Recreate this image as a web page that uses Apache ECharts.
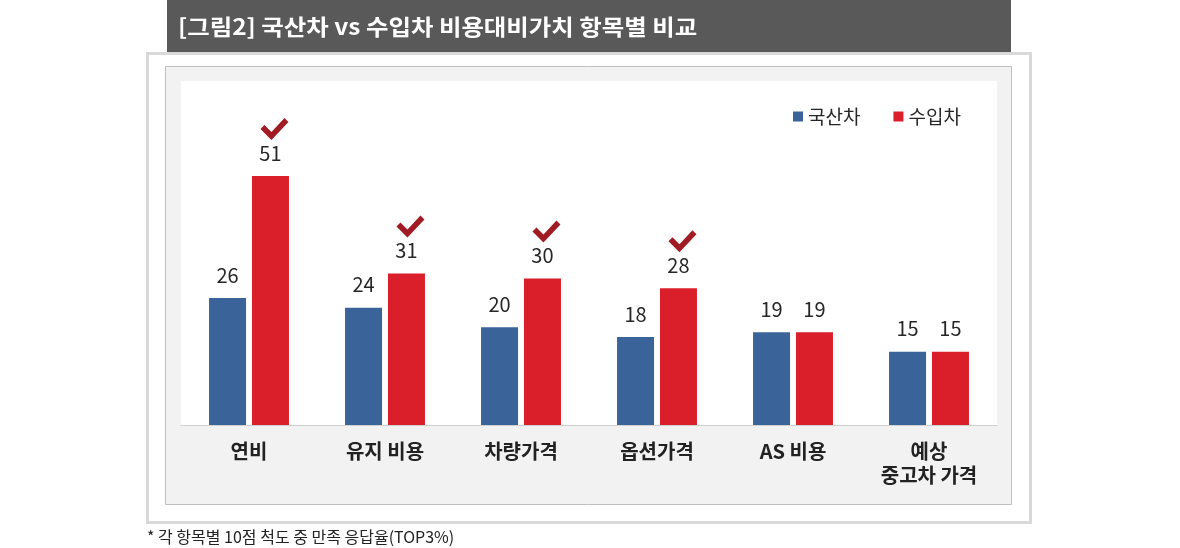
<!DOCTYPE html>
<html>
<head>
<meta charset="utf-8">
<script src="https://cdn.jsdelivr.net/npm/echarts@6/dist/echarts.min.js"></script>
<style>
  html, body { margin: 0; padding: 0; background: #fff; }
  #main { width: 1180px; height: 548px; }
</style>
</head>
<body>
<div id="main"></div>
<script>
var categories = ['연비', '유지 비용', '차량가격', '옵션가격', 'AS 비용', '예상\n중고차 가격'];
var domestic = [26, 24, 20, 18, 19, 15];
var imported = [51, 31, 30, 28, 19, 15];
var checked = [0, 1, 2, 3]; // imported bars marked with a check
var seriesNames = ['국산차', '수입차'];

var FONT = '"Noto Sans CJK KR", "Noto Sans", sans-serif';
var checkPath = 'path://M0,11 L4,7 L11,14 L24,0 L28,4 L11,22 Z';

var chart = echarts.init(document.getElementById('main'));

var option = {
  animation: false,
  textStyle: { fontFamily: FONT },
  graphic: [
    { type: 'rect', z: -10, shape: { x: 167, y: 0, width: 844, height: 52 }, style: { fill: '#595959' } },
    { type: 'text', z: -9, x: 178, y: 27, scaleX: 1.11, style: { text: '[그림2] 국산차 vs 수입차 비용대비가치 항목별 비교', fill: '#fff', font: 'bold 22px ' + FONT, verticalAlign: 'middle' } },
    { type: 'rect', z: -10, shape: { x: 147.5, y: 53.5, width: 883, height: 469 }, style: { fill: '#fff', stroke: '#d9d9d9', lineWidth: 3 } },
    { type: 'rect', z: -9, shape: { x: 165.5, y: 66.5, width: 846, height: 438 }, style: { fill: '#f2f2f2', stroke: '#bfbfbf', lineWidth: 1 } },
    { type: 'rect', z: -8, shape: { x: 181, y: 81, width: 816, height: 344 }, style: { fill: '#fff' } },
    { type: 'text', z: -8, x: 147, y: 537, style: { text: '* 각 항목별 10점 척도 중 만족 응답율(TOP3%)', fill: '#222', font: '16px ' + FONT, verticalAlign: 'middle' } }
  ],
  legend: {
    data: seriesNames,
    left: 788,
    top: 102,
    itemWidth: 10,
    itemHeight: 10,
    itemGap: 33,
    icon: 'rect',
    textStyle: { fontSize: 19, color: '#262626', fontFamily: FONT }
  },
  grid: { left: 181, right: 183, top: 132, bottom: 123 },
  xAxis: {
    type: 'category',
    data: categories,
    axisLine: { lineStyle: { color: '#d0d0d0', width: 1 } },
    axisTick: { show: false },
    axisLabel: {
      margin: 14,
      fontSize: 20,
      fontWeight: 'bold',
      color: '#222',
      lineHeight: 24,
      fontFamily: FONT,
      interval: 0
    }
  },
  yAxis: {
    type: 'value',
    min: 0,
    max: 60,
    show: false,
    splitLine: { show: false }
  },
  series: [
    {
      name: seriesNames[0],
      type: 'bar',
      data: domestic,
      barWidth: 37,
      barGap: '16%',
      itemStyle: { color: '#3a6399' },
      label: { show: true, position: 'top', distance: 13, fontSize: 20, color: '#262626', fontFamily: FONT }
    },
    {
      name: seriesNames[1],
      type: 'bar',
      data: imported,
      barWidth: 37,
      itemStyle: { color: '#db1f2a' },
      label: { show: true, position: 'top', distance: 13, fontSize: 20, color: '#262626', fontFamily: FONT },
      markPoint: {
        symbol: checkPath,
        symbolSize: [28, 22],
        symbolOffset: [4, -47],
        itemStyle: { color: '#a11b24' },
        label: { show: false },
        data: checked.map(function (i) { return { coord: [i, imported[i]] }; })
      }
    }
  ]
};

chart.setOption(option);
</script>
</body>
</html>
